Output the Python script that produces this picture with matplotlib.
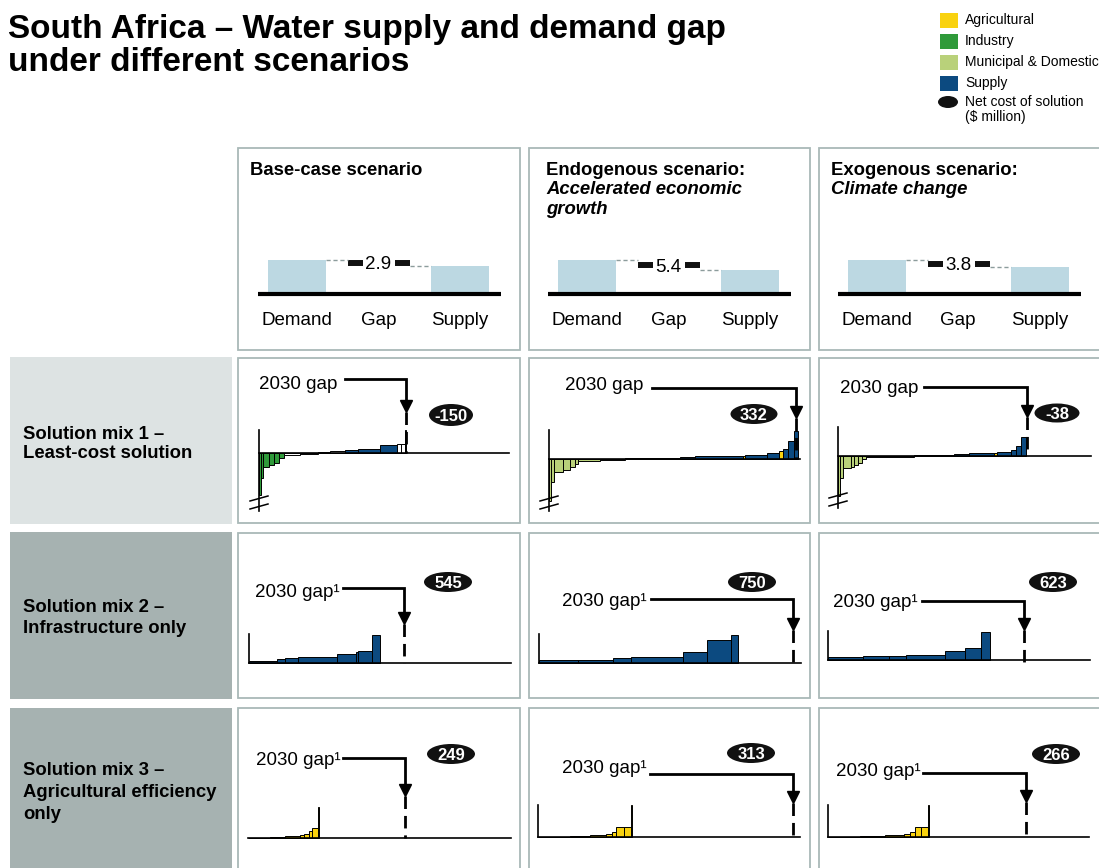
import matplotlib
matplotlib.use('Agg')
import matplotlib.pyplot as plt
from matplotlib.patches import Rectangle, Ellipse
import numpy as np

W, H = 1099, 868
plt.rcParams['font.family'] = ['Liberation Sans', 'DejaVu Sans']

# ---------------- data ----------------
title_lines = ['South Africa \u2013 Water supply and demand gap', 'under different scenarios']
scenario_titles = [[('Base-case scenario', 'normal')],
                   [('Endogenous scenario:', 'normal'), ('Accelerated economic', 'italic'), ('growth', 'italic')],
                   [('Exogenous scenario:', 'normal'), ('Climate change', 'italic')]]
header_labels = ['Demand', 'Gap', 'Supply']
demand = [17.7, 17.7, 17.7]          # bn m3
supply = [14.8, 12.3, 13.9]          # bn m3
gaps = [2.9, 5.4, 3.8]               # bn m3
mix_labels = [['Solution mix 1 \u2013', 'Least-cost solution'],
              ['Solution mix 2 \u2013', 'Infrastructure only'],
              ['Solution mix 3 \u2013', 'Agricultural efficiency', 'only']]
net_cost = [[-150, 332, -38], [545, 750, 623], [249, 313, 266]]
legend_labels = ['Agricultural', 'Industry', 'Municipal & Domestic', 'Supply']
legend_keys = ['A', 'I', 'M', 'S']

# cost curves: widths (bn m3), unit cost ($/m3), category keys
mix1_w = [[0.04, 0.04, 0.12, 0.10, 0.10, 0.10, 0.30, 0.36, 0.24, 0.30, 0.26, 0.43, 0.34, 0.08, 0.06, 0.03],
          [0.05, 0.07, 0.18, 0.15, 0.11, 0.07, 0.48, 0.55, 1.20, 0.33, 1.05, 0.04, 0.48, 0.28, 0.07, 0.11, 0.15, 0.07],
          [0.04, 0.06, 0.16, 0.06, 0.08, 0.08, 0.08, 0.97, 0.80, 0.30, 0.50, 0.06, 0.30, 0.10, 0.10, 0.10]]
mix1_c = [[-1.05, -0.62, -0.35, -0.30, -0.25, -0.12, -0.05, -0.02, 0.025, 0.05, 0.08, 0.11, 0.20, 0.22, 0.22, 0.57],
          [-1.05, -0.58, -0.32, -0.28, -0.20, -0.12, -0.05, -0.02, 0.025, 0.05, 0.075, 0.075, 0.10, 0.15, 0.20, 0.25, 0.45, 0.70],
          [-1.00, -0.55, -0.30, -0.28, -0.22, -0.17, -0.08, -0.02, 0.02, 0.05, 0.07, 0.07, 0.10, 0.15, 0.25, 0.48]]
mix1_k = [['I', 'I', 'I', 'I', 'I', 'I', 'O', 'O', 'O', 'O', 'S', 'S', 'S', 'O', 'O', 'S'],
          ['M', 'M', 'M', 'M', 'M', 'M', 'M', 'O', 'O', 'S', 'S', 'A', 'S', 'S', 'A', 'S', 'S', 'S'],
          ['M', 'M', 'M', 'M', 'M', 'M', 'M', 'O', 'O', 'S', 'S', 'A', 'S', 'S', 'S', 'S']]
mix2_w = [[0.52, 0.15, 0.24, 0.73, 0.37, 0.04, 0.26, 0.15],
          [0.83, 0.74, 0.38, 1.11, 0.51, 0.51, 0.15],
          [0.68, 0.50, 0.33, 0.76, 0.39, 0.31, 0.16]]
mix2_c = [[0.06, 0.10, 0.125, 0.15, 0.22, 0.28, 0.30, 0.70],
          [0.07, 0.08, 0.12, 0.15, 0.28, 0.58, 0.70],
          [0.07, 0.09, 0.11, 0.13, 0.22, 0.30, 0.70]]
mix3_w = [[0.41, 0.28, 0.28, 0.07, 0.09, 0.06, 0.11, 0.02],
          [0.68, 0.42, 0.34, 0.13, 0.08, 0.17, 0.15, 0.02],
          [0.61, 0.48, 0.36, 0.12, 0.10, 0.12, 0.12, 0.02]]
mix3_c = [[0.01, 0.025, 0.05, 0.08, 0.10, 0.18, 0.25, 0.78],
          [0.01, 0.025, 0.05, 0.08, 0.12, 0.24, 0.24, 0.80],
          [0.01, 0.025, 0.05, 0.08, 0.12, 0.24, 0.24, 0.80]]

# ---------------- styles ----------------
colors = {'A': '#f9d20f', 'I': '#2f9a3a', 'M': '#b9d17a', 'S': '#0c4a80', 'O': 'white'}
light_blue = '#bcd8e2'
border_col = '#a9b9b8'
box_light = '#dde3e3'
box_dark = '#a6b2b1'
FS_BOLD = 13.3
FS_REG = 13.5

fig = plt.figure(figsize=(W / 100, H / 100), dpi=100)
bg = fig.add_axes([0, 0, 1, 1])
bg.set_xlim(0, W)
bg.set_ylim(H, 0)
bg.axis('off')


def px_axes(x0, y0, x1, y1):
    ax = fig.add_axes([x0 / W, 1 - y1 / H, (x1 - x0) / W, (y1 - y0) / H])
    ax.axis('off')
    return ax


# title
bg.text(8, 38, title_lines[0], fontsize=24, fontweight='bold', va='baseline')
bg.text(8, 71, title_lines[1], fontsize=24, fontweight='bold', va='baseline')

# legend
for i, (lab, key) in enumerate(zip(legend_labels, legend_keys)):
    y = 12.5 + i * 21
    bg.add_patch(Rectangle((940, y), 18, 15, fc=colors[key], ec='none'))
    bg.text(965, y + 7.5, lab, fontsize=10, va='center')
bg.add_patch(Ellipse((948, 102), 20, 12, fc='#111111', ec='none'))
bg.text(965, 102, 'Net cost of solution', fontsize=10, va='center')
bg.text(965, 117, '($ million)', fontsize=10, va='center')

# grid geometry
col_x = [(238, 520), (529, 810), (819, 1115)]
row_y = [(148, 350), (358, 523), (533, 698), (708, 885)]

# left row boxes
bg.add_patch(Rectangle((10, 357), 222, 167, fc=box_light, ec='none'))
bg.add_patch(Rectangle((10, 532), 222, 167, fc=box_dark, ec='none'))
bg.add_patch(Rectangle((10, 708), 222, 180, fc=box_dark, ec='none'))
label_base = [[439, 458], [612, 633], [775, 797, 819]]
for r, lines in enumerate(mix_labels):
    for t, yb in zip(lines, label_base[r]):
        bg.text(23, yb, t, fontsize=FS_BOLD, fontweight='bold', va='baseline')

# panel borders
for (x0, x1) in col_x:
    for (y0, y1) in row_y:
        bg.add_patch(Rectangle((x0, y0), x1 - x0, y1 - y0, fc='white', ec=border_col, lw=1.3))

# ---------------- header panels ----------------
head_title_x = [250, 546, 831]
demand_cx = [297, 587, 877]
hsx = 81.25
hsy = 34 / 17.7
hoy = 294
for j in range(3):
    for li, (t, st) in enumerate(scenario_titles[j]):
        bg.text(head_title_x[j], 175 + li * 19.5, t, fontsize=FS_BOLD, fontweight='bold',
                style=st, va='baseline')
    x0, x1 = col_x[j]
    y0, y1 = row_y[0]
    ox = demand_cx[j]
    ax = px_axes(x0, y0, x1, y1)
    ax.set_xlim((x0 - ox) / hsx, (x1 - ox) / hsx)
    ax.set_ylim((hoy - y1) / hsy, (hoy - y0) / hsy)
    bw = 58 / hsx
    ax.bar([0, 2], [demand[j], supply[j]], width=bw, color=light_blue, edgecolor='none')
    ax.plot([-39 / hsx, 204 / hsx], [0, 0], color='black', lw=3, solid_capstyle='butt')
    for i, lab in enumerate(header_labels):
        ax.text(i, (hoy - 325) / hsy, lab, fontsize=FS_REG, ha='center', va='baseline')
    mid = (demand[j] + supply[j]) / 2
    ax.text(1, mid, f'{gaps[j]}', fontsize=FS_REG, ha='center', va='center_baseline')
    ax.plot([1 - 30 / hsx, 1 - 15 / hsx], [mid, mid], color='#111111', lw=4.3, solid_capstyle='butt')
    ax.plot([1 + 17 / hsx, 1 + 32 / hsx], [mid, mid], color='#111111', lw=4.3, solid_capstyle='butt')
    ax.plot([bw / 2, 1 - 30 / hsx], [demand[j], demand[j]], color='#8c9c9c', lw=1, dashes=(3, 2))
    ax.plot([1 + 32 / hsx, 2 - bw / 2], [supply[j], supply[j]], color='#8c9c9c', lw=1, dashes=(3, 2))

# ---------------- cost curve panels ----------------
layout = [
    [dict(ox=259, oy=453, sx=50.7, xend=509, vtop=430, vbot=511, lr=337, lb=389, ly=379, lx=345, tip=412, ell=(451, 415, 44, 22)),
     dict(ox=549, oy=459, sx=45.7, xend=800, vtop=430, vbot=511, lr=643, lb=390, ly=388, lx=652, tip=418, ell=(754, 414, 47, 20)),
     dict(ox=838, oy=456, sx=49.7, xend=1091, vtop=427, vbot=508, lr=918, lb=393, ly=387, lx=924, tip=417, ell=(1057, 413, 45, 19))],
    [dict(ox=249, oy=663, sx=53.4, xend=511, vtop=634, vbot=663, lr=340, lb=597, ly=588, lx=343, tip=624, ell=(448, 582, 48, 20)),
     dict(ox=539, oy=663, sx=47.0, xend=801, vtop=634, vbot=663, lr=647, lb=606, ly=599, lx=651, tip=630, ell=(752, 582, 48, 20)),
     dict(ox=828, oy=660, sx=51.6, xend=1090, vtop=631, vbot=660, lr=918, lb=607, ly=601, lx=922, tip=630, ell=(1053, 582, 48, 20))],
    [dict(ox=248, oy=838, sx=54.1, xend=511, vtop=None, vbot=None, lr=341, lb=765, ly=758, lx=343, tip=796, ell=(451, 754, 48, 20)),
     dict(ox=538, oy=837, sx=47.2, xend=800, vtop=805, vbot=837, lr=647, lb=773, ly=774, lx=650, tip=803, ell=(751, 753, 48, 20)),
     dict(ox=828, oy=837, sx=52.1, xend=1089, vtop=805, vbot=837, lr=921, lb=776, ly=773, lx=923, tip=802, ell=(1056, 754, 48, 20))],
]
sy = 40.0

curve_w = [mix1_w, mix2_w, mix3_w]
curve_c = [mix1_c, mix2_c, mix3_c]
curve_k = [mix1_k,
           [['S'] * len(v) for v in mix2_w],
           [['A'] * len(v) for v in mix3_w]]

for r in range(3):
    for j in range(3):
        L = layout[r][j]
        x0, x1 = col_x[j]
        y0, y1 = row_y[r + 1]
        ax = px_axes(x0, y0, x1, y1)
        ox, oy, sx = L['ox'], L['oy'], L['sx']
        dx = lambda p, ox=ox, sx=sx: (p - ox) / sx
        dy = lambda p, oy=oy: (oy - p) / sy
        ax.set_xlim(dx(x0), dx(x1))
        ax.set_ylim(dy(y1), dy(y0))
        w = np.array(curve_w[r][j])
        c = np.array(curve_c[r][j])
        lefts = np.concatenate([[0], np.cumsum(w)[:-1]])
        ax.bar(lefts, c, width=w, align='edge', color=[colors[k] for k in curve_k[r][j]],
               edgecolor='black', linewidth=0.7, zorder=2)
        ax.plot([0, dx(L['xend'])], [0, 0], color='black', lw=1.2, zorder=3)
        if L['vtop'] is not None:
            ax.plot([0, 0], [dy(L['vtop']), dy(L['vbot'])], color='black', lw=1.2, zorder=3)
        if r == 0:
            vb = L['vbot']
            ax.plot([dx(ox - 9), dx(ox + 9)], [dy(vb - 10), dy(vb - 15)], color='black', lw=1.1)
            ax.plot([dx(ox - 9), dx(ox + 9)], [dy(vb - 2), dy(vb - 7)], color='black', lw=1.1)
        g = gaps[j]
        ax.plot([dx(L['lx']), g, g], [dy(L['ly']), dy(L['ly']), dy(L['tip'] - 11)],
                color='black', lw=2, solid_joinstyle='miter', zorder=4)
        ax.plot([g], [dy(L['tip'] - 6)], marker='v', ms=8.8, color='black', zorder=4)
        ax.plot([g, g], [dy(L['tip']), dy(oy + (3 if (r == 1 and j == 2) else 0))],
                color='black', lw=2, dashes=(4.5, 2.5), zorder=4)
        lab = '2030 gap' if r == 0 else '2030 gap\u00b9'
        bg.text(L['lr'], L['lb'], lab, fontsize=FS_REG, ha='right', va='baseline', zorder=5)
        cx, cy, ew, eh = L['ell']
        ell = Ellipse((cx, cy), ew, eh, fc='#111111', ec='none', zorder=5)
        bg.add_patch(ell)
        bg.text(cx, cy, str(net_cost[r][j]), color='white', fontsize=12, fontweight='bold',
                ha='center', va='center_baseline', zorder=6)

fig.savefig('out.png', dpi=100)
